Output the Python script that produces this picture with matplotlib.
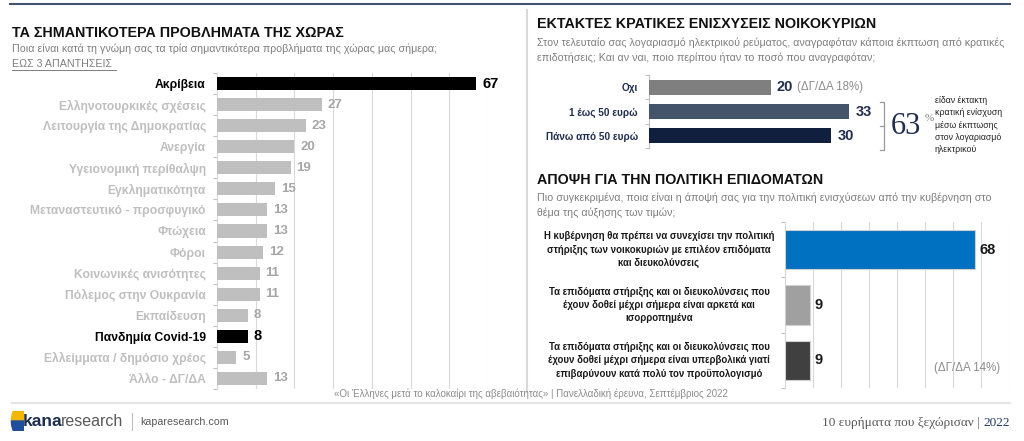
import matplotlib
matplotlib.use("Agg")
import matplotlib.pyplot as plt
from matplotlib.lines import Line2D
from matplotlib.patches import Wedge

plt.rcParams['font.family'] = ['Liberation Sans', 'DejaVu Sans']
SERIF = ['Liberation Serif', 'DejaVu Serif']

# data
problems = ['Ακρίβεια', 'Ελληνοτουρκικές σχέσεις', 'Λειτουργία της Δημοκρατίας', 'Ανεργία',
            'Υγειονομική περίθαλψη', 'Εγκληματικότητα', 'Μεταναστευτικό - προσφυγικό', 'Φτώχεια',
            'Φόροι', 'Κοινωνικές ανισότητες', 'Πόλεμος στην Ουκρανία', 'Εκπαίδευση',
            'Πανδημία Covid-19', 'Ελλείμματα / δημόσιο χρέος', 'Άλλο - ΔΓ/ΔΑ']
problem_vals = [67, 27, 23, 20, 19, 15, 13, 13, 12, 11, 11, 8, 8, 5, 13]
highlight = ['Ακρίβεια', 'Πανδημία Covid-19']

subsidy_cats = ['Οχι', '1 έως 50 ευρώ', 'Πάνω από 50 ευρώ']
subsidy_vals = [20, 33, 30]
subsidy_colors = ['#7f7f7f', '#44546a', '#0f1f3d']

policy_cats = ['Η κυβέρνηση θα πρέπει να συνεχίσει την πολιτική\nστήριξης των νοικοκυριών με επιλέον επιδόματα\nκαι διευκολύνσεις',
               'Τα επιδόματα στήριξης και οι διευκολύνσεις που\nέχουν δοθεί μέχρι σήμερα είναι αρκετά και\nισορροπημένα',
               'Τα επιδόματα στήριξης και οι διευκολύνσεις που\nέχουν δοθεί μέχρι σήμερα είναι υπερβολικά γιατί\nεπιβαρύνουν κατά πολύ τον προϋπολογισμό']
policy_vals = [68, 9, 9]
policy_colors = ['#0070c0', '#a0a0a0', '#404040']

W, H = 1024, 441
fig = plt.figure(figsize=(W / 100, H / 100), dpi=100)


def px(x, y):
    return x / W, 1 - y / H


def box(x0, y0, x1, y1):
    return [x0 / W, 1 - y1 / H, (x1 - x0) / W, (y1 - y0) / H]


def ftext(x, y, s, **kw):
    fx, fy = px(x, y)
    return fig.text(fx, fy, s, **kw)


NAVY = '#1f2d4e'
GRAY_TXT = '#7f7f7f'

# frame lines
fig.add_artist(Line2D([10 / W, 1010 / W], [1 - 4 / H] * 2, color='#44546a', lw=1.5))
fig.add_artist(Line2D([527 / W] * 2, [1 - 10 / H, 1 - 392 / H], color='#d9d9d9', lw=1.5))
fig.add_artist(Line2D([12 / W, 1010 / W], [1 - 403 / H] * 2, color='#e6e6e6', lw=1.5))

# ---------- left chart ----------
ftext(12, 33, 'ΤΑ ΣΗΜΑΝΤΙΚΟΤΕΡΑ ΠΡΟΒΛΗΜΑΤΑ ΤΗΣ ΧΩΡΑΣ', fontsize=10.3, fontweight='bold',
      color='#111111', va='center')
ftext(12, 49, 'Ποια είναι κατά τη γνώμη σας τα τρία σημαντικότερα προβλήματα της χώρας μας σήμερα;',
      fontsize=7.7, color=GRAY_TXT, va='center')
ftext(12, 64, 'ΕΩΣ 3 ΑΠΑΝΤΗΣΕΙΣ', fontsize=7.7, color=GRAY_TXT, va='center')
fig.add_artist(Line2D([12 / W, 116 / W], [1 - 70 / H] * 2, color=GRAY_TXT, lw=0.7))

ax1 = fig.add_axes(box(217, 73, 488, 389))
ypos = list(range(len(problems)))
bar_cols = ['#000000' if p in highlight else '#bfbfbf' for p in problems]
ax1.barh(ypos, problem_vals, height=0.62, color=bar_cols, zorder=3)
ax1.set_xlim(0, 70)
ax1.set_ylim(len(problems) - 0.5, -0.5)
ax1.set_xticks(range(0, 71, 10))
ax1.xaxis.grid(True, color='#d9d9d9', lw=0.8, zorder=0)
ax1.tick_params(axis='x', length=0, labelbottom=False)
ax1.set_yticks(ypos)
ax1.set_yticklabels(problems, fontsize=8.7, fontweight='bold')
for lab, p in zip(ax1.get_yticklabels(), problems):
    lab.set_color('#000000' if p in highlight else '#bfbfbf')
ax1.tick_params(axis='y', length=0, pad=8)
ax1.set_yticks([i - 0.5 for i in range(len(problems) + 1)], minor=True)
ax1.tick_params(axis='y', which='minor', length=3, color='#bfbfbf', width=0.8)
for s in ['top', 'right', 'bottom']:
    ax1.spines[s].set_visible(False)
ax1.spines['left'].set_color('#d9d9d9')
for i, (p, v) in enumerate(zip(problems, problem_vals)):
    hl = p in highlight
    ax1.text(v + 1.5, i, str(v), va='center', ha='left', fontsize=10.5 if hl else 9.5,
             fontweight='bold', color='#000000' if hl else '#a6a6a6', clip_on=False)

# ---------- top right chart ----------
ftext(537, 24, 'ΕΚΤΑΚΤΕΣ ΚΡΑΤΙΚΕΣ ΕΝΙΣΧΥΣΕΙΣ ΝΟΙΚΟΚΥΡΙΩΝ', fontsize=10.3, fontweight='bold',
      color='#111111', va='center')
ftext(537, 43, 'Στον τελευταίο σας λογαριασμό ηλεκτρικού ρεύματος, αναγραφόταν κάποια έκπτωση από κρατικές',
      fontsize=7.7, color=GRAY_TXT, va='center')
ftext(537, 58, 'επιδοτήσεις; Και αν ναι, ποιο περίπου ήταν το ποσό που αναγραφόταν;',
      fontsize=7.7, color=GRAY_TXT, va='center')

ax2 = fig.add_axes(box(649, 75, 892, 148))
ypos2 = list(range(len(subsidy_cats)))
ax2.barh(ypos2, subsidy_vals, height=0.62, color=subsidy_colors, zorder=3)
ax2.set_xlim(0, 40)
ax2.set_ylim(len(subsidy_cats) - 0.5, -0.5)
ax2.set_xticks([])
ax2.set_yticks(ypos2)
ax2.set_yticklabels(subsidy_cats, fontsize=7.2, fontweight='bold', color=NAVY)
ax2.tick_params(axis='y', length=0, pad=8)
ax2.set_yticks([i - 0.5 for i in range(len(subsidy_cats) + 1)], minor=True)
ax2.tick_params(axis='y', which='minor', length=3, color='#bfbfbf', width=0.8)
for s in ['top', 'right', 'bottom']:
    ax2.spines[s].set_visible(False)
ax2.spines['left'].set_color('#bfbfbf')
ax2.patch.set_alpha(0)
for i, v in enumerate(subsidy_vals):
    ax2.text(v + 1.0, i, str(v), va='center', ha='left', fontsize=10.5, fontweight='bold',
             color=NAVY, clip_on=False)
ax2.text(24.3, 0, '(ΔΓ/ΔΑ 18%)', va='center', ha='left', fontsize=8.3,
         color='#8c8c8c', clip_on=False)

# bracket 63%
bx = 884
fig.add_artist(Line2D([(bx - 4) / W, bx / W, bx / W, (bx - 4) / W],
                      [1 - 102 / H, 1 - 102 / H, 1 - 150 / H, 1 - 150 / H], color='#9a9a9a', lw=0.9))
fig.add_artist(Line2D([(bx - 4) / W, bx / W], [1 - 126 / H] * 2, color='#9a9a9a', lw=0.9))
ftext(891, 127, '63', fontsize=22, family=SERIF, color=NAVY, va='center', ha='left')
ftext(925, 119, '%', fontsize=8, family=SERIF, color='#7f7f7f', va='center', ha='left')
ftext(935, 125, 'είδαν έκτακτη\nκρατική ενίσχυση\nμέσω έκπτωσης\nστον λογαριασμό\nηλεκτρικού',
      fontsize=6.3, color='#222222', va='center', ha='left', linespacing=1.45)

# ---------- bottom right chart ----------
ftext(537, 180, 'ΑΠΟΨΗ ΓΙΑ ΤΗΝ ΠΟΛΙΤΙΚΗ ΕΠΙΔΟΜΑΤΩΝ', fontsize=10.3, fontweight='bold',
      color='#111111', va='center')
ftext(537, 198, 'Πιο συγκεκριμένα, ποια είναι η άποψή σας για την πολιτική ενισχύσεων από την κυβέρνηση στο',
      fontsize=7.7, color=GRAY_TXT, va='center')
ftext(537, 213, 'θέμα της αύξησης των τιμών;', fontsize=7.7, color=GRAY_TXT, va='center')

ax3 = fig.add_axes(box(785, 222, 1009, 388))
ypos3 = list(range(len(policy_cats)))
ax3.barh(ypos3, policy_vals, height=0.71, color=policy_colors, edgecolor='#d0d0d0',
         linewidth=0.8, zorder=3)
ax3.set_xlim(0, 80)
ax3.set_ylim(len(policy_cats) - 0.5, -0.5)
ax3.set_xticks(range(0, 81, 10))
ax3.xaxis.grid(True, color='#d9d9d9', lw=0.8, zorder=0)
ax3.tick_params(axis='x', length=0, labelbottom=False)
ax3.set_yticks([])
ax3.set_yticks([i - 0.5 for i in range(len(policy_cats) + 1)], minor=True)
ax3.tick_params(axis='y', which='minor', length=3, color='#bfbfbf', width=0.8)
for s in ['top', 'right', 'bottom']:
    ax3.spines[s].set_visible(False)
ax3.spines['left'].set_color('#d9d9d9')
tr = ax3.get_yaxis_transform()
for i, (c, v) in enumerate(zip(policy_cats, policy_vals)):
    ax3.text((659 - 785) / 224, i, c, transform=tr, ha='center', va='center', fontsize=6.9,
             fontweight='bold', color='#1a1a1a', linespacing=1.4, clip_on=False)
    ax3.text(v + 1.6, i, str(v), va='center', ha='left', fontsize=10.5, fontweight='bold',
             color='#1a1a1a', clip_on=False)
ax3.text(65, 2.14, '(ΔΓ/ΔΑ 14%)', va='center', ha='center', fontsize=8.3, color='#8c8c8c')

# ---------- footer ----------
ftext(531, 394, '«Οι Έλληνες μετά το καλοκαίρι της αβεβαιότητας» | Πανελλαδική έρευνα, Σεπτέμβριος 2022',
      fontsize=7.0, color='#8c8c8c', ha='center', va='center')

# logo icon
icon_ax = fig.add_axes(box(10, 411, 24, 431))
icon_ax.set_xlim(0, 1)
icon_ax.set_ylim(0, 1)
icon_ax.axis('off')
icon_ax.add_patch(Wedge((1.0, 0.5), 0.9, 90, 180, color='#f2b705'))
icon_ax.add_patch(Wedge((1.0, 0.5), 0.9, 180, 270, color='#1f4e9c'))
ftext(23, 421, 'kana', fontsize=12.5, fontweight='bold', color=NAVY, va='center', ha='left')
ftext(61, 421, 'research', fontsize=11.5, color='#595959', va='center', ha='left')
fig.add_artist(Line2D([132 / W] * 2, [1 - 413 / H, 1 - 430 / H], color='#bfbfbf', lw=0.8))
ftext(140, 422, 'kaparesearch.com', fontsize=7.7, color='#595959', va='center', ha='left')

ftext(1010, 423, '2022', fontsize=9.5, family=SERIF, color='#1f3864', ha='right', va='center')
ftext(980, 423, '10 ευρήματα που ξεχώρισαν |', fontsize=9.5, family=SERIF,
      color='#595959', ha='right', va='center')

fig.savefig('out.png', dpi=100)
